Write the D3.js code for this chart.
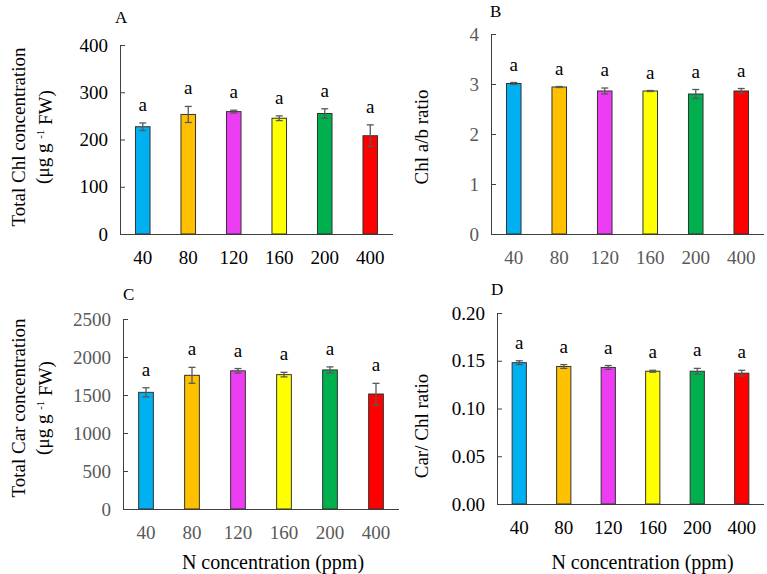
<!DOCTYPE html>
<html>
<head>
<meta charset="utf-8">
<script src="https://cdn.jsdelivr.net/npm/d3@7"></script>
<style>
  body { margin: 0; background: #fff; }
  text { font-family: "Times New Roman", "Liberation Serif", serif; }
</style>
</head>
<body>
<svg id="chart" width="767" height="574"></svg>
<script>
// N concentrations (ppm)
var categories = ["40", "80", "120", "160", "200", "400"];
var barColors = ["#00B0F0", "#FFC000", "#EC3DF3", "#FFFF00", "#00B04F", "#FF0000"];

// A: total Chl
var chlTotal = [227, 253, 259, 245, 255, 208];
var chlTotalErr = [8, 17, 3, 5, 10, 23];
// B: Chl a/b
var chlRatio = [3.01, 2.94, 2.86, 2.86, 2.80, 2.86];
var chlRatioErr = [0.02, 0.01, 0.06, 0.01, 0.09, 0.05];
// C: total Car
var carTotal = [1535, 1759, 1818, 1768, 1830, 1513];
var carTotalErr = [60, 105, 30, 30, 40, 140];
// D: Car/Chl
var carChl = [0.148, 0.144, 0.143, 0.139, 0.139, 0.137];
var carChlErr = [0.002, 0.002, 0.002, 0.001, 0.003, 0.003];

var letters = ["a", "a", "a", "a", "a", "a"];
var tickA = [0, 100, 200, 300, 400];
var tickB = [0, 1, 2, 3, 4];
var tickC = [0, 500, 1000, 1500, 2000, 2500];
var tickD = [0, 0.05, 0.10, 0.15, 0.20];

var svg = d3.select("#chart");

var panels = [
  { tag: "A", vals: chlTotal, errs: chlTotalErr, ticks: tickA, max: 400, fmt: d3.format("d"),
    x0: 120, x1: 393, top: 45, bottom: 234, tickColor: "#000",
    tagX: 115, tagY: 23, titleX: [18, 42], titleY: 137, xTitle: false },
  { tag: "B", vals: chlRatio, errs: chlRatioErr, ticks: tickB, max: 4, fmt: d3.format("d"),
    x0: 491, x1: 764, top: 34, bottom: 234, tickColor: "#595959",
    tagX: 490, tagY: 17, titleX: [421], titleY: 137, xTitle: false },
  { tag: "C", vals: carTotal, errs: carTotalErr, ticks: tickC, max: 2500, fmt: d3.format("d"),
    x0: 123, x1: 399, top: 319, bottom: 509, tickColor: "#595959",
    tagX: 123, tagY: 300, titleX: [18, 42], titleY: 408, xTitle: true },
  { tag: "D", vals: carChl, errs: carChlErr, ticks: tickD, max: 0.2, fmt: d3.format(".2f"),
    x0: 497, x1: 764, top: 313, bottom: 504, tickColor: "#000",
    tagX: 491, tagY: 295, titleX: [421], titleY: 426, xTitle: true }
];

var titles = {
  A: [["Total Chl concentration"], ["(μg g", "-1", "FW)"]],
  B: [["Chl a/b ratio"]],
  C: [["Total Car concentration"], ["(μg g", "-1", "FW)"]],
  D: [["Car/ Chl ratio"]]
};

panels.forEach(function (p) {
  var g = svg.append("g");

  var x = d3.scaleBand()
    .domain(categories)
    .range([p.x0, p.x1])
    .paddingInner(0.68)
    .paddingOuter(0.34);

  var y = d3.scaleLinear()
    .domain([0, p.max])
    .range([p.bottom, p.top]);

  //y轴
  var yAxis = g.append("g")
    .attr("transform", "translate(" + p.x0 + ",0)")
    .call(d3.axisRight(y).tickValues(p.ticks).tickFormat(p.fmt).tickSize(5).tickSizeOuter(0));
  yAxis.select(".domain").attr("stroke", "#404040");
  yAxis.selectAll(".tick line").attr("stroke", "#404040");
  yAxis.selectAll(".tick text")
    .attr("x", -12)
    .attr("text-anchor", "end")
    .attr("fill", p.tickColor)
    .style("font-size", "19px")
    .style("font-family", '"Times New Roman", "Liberation Serif", serif');

  //x轴
  var xAxis = g.append("g")
    .attr("transform", "translate(0," + p.bottom + ")")
    .call(d3.axisBottom(x).tickSize(0).tickSizeOuter(0));
  xAxis.select(".domain").attr("stroke", "#404040").attr("d", "M" + p.x0 + ",0.5H" + p.x1);
  xAxis.selectAll(".tick text")
    .attr("y", 23)
    .attr("dy", "0.35em")
    .attr("fill", p.tickColor)
    .style("font-size", "19px")
    .style("font-family", '"Times New Roman", "Liberation Serif", serif');

  //柱子
  g.append("g").selectAll("rect")
    .data(p.vals)
    .enter()
    .append("rect")
    .attr("x", function (d, i) { return x(categories[i]); })
    .attr("y", function (d) { return y(d); })
    .attr("width", x.bandwidth())
    .attr("height", function (d) { return y(0) - y(d); })
    .attr("fill", function (d, i) { return barColors[i]; })
    .attr("stroke", "#333")
    .attr("stroke-width", 1);

  //误差线
  var eb = g.append("g").selectAll("g")
    .data(p.vals)
    .enter()
    .append("g")
    .attr("stroke", "#595959")
    .attr("stroke-width", 1.3);
  eb.append("line")
    .attr("x1", function (d, i) { return x(categories[i]) + x.bandwidth() / 2; })
    .attr("x2", function (d, i) { return x(categories[i]) + x.bandwidth() / 2; })
    .attr("y1", function (d, i) { return y(d + p.errs[i]); })
    .attr("y2", function (d, i) { return y(d - p.errs[i]); });
  [1, -1].forEach(function (s) {
    eb.append("line")
      .attr("x1", function (d, i) { return x(categories[i]) + x.bandwidth() / 2 - 3.5; })
      .attr("x2", function (d, i) { return x(categories[i]) + x.bandwidth() / 2 + 3.5; })
      .attr("y1", function (d, i) { return y(d + s * p.errs[i]); })
      .attr("y2", function (d, i) { return y(d + s * p.errs[i]); });
  });

  //显著性字母
  g.append("g").selectAll("text")
    .data(p.vals)
    .enter()
    .append("text")
    .attr("x", function (d, i) { return x(categories[i]) + x.bandwidth() / 2; })
    .attr("y", function (d, i) { return y(d + p.errs[i]) - 12; })
    .attr("text-anchor", "middle")
    .style("font-size", "19px")
    .text(function (d, i) { return letters[i]; });

  //面板字母
  g.append("text")
    .attr("x", p.tagX)
    .attr("y", p.tagY)
    .style("font-size", "17px")
    .text(p.tag);

  //y轴标题
  titles[p.tag].forEach(function (parts, k) {
    var t = g.append("text")
      .attr("transform", "translate(" + p.titleX[k] + "," + p.titleY + ") rotate(-90)")
      .attr("text-anchor", "middle")
      .attr("dy", "0.35em")
      .style("font-size", "19px");
    if (parts.length === 1) {
      t.text(parts[0]);
    } else {
      t.append("tspan").text(parts[0] + " ");
      t.append("tspan").attr("dy", "-0.45em").style("font-size", "11px").text(parts[1]);
      t.append("tspan").attr("dy", "0.45em").text(" " + parts[2]);
    }
  });

  if (p.xTitle) {
    g.append("text")
      .attr("x", (p.x0 + p.x1) / 2 + 12)
      .attr("y", 562)
      .attr("dy", "0.35em")
      .attr("text-anchor", "middle")
      .style("font-size", "20px")
      .text("N concentration (ppm)");
  }
});
</script>
</body>
</html>
